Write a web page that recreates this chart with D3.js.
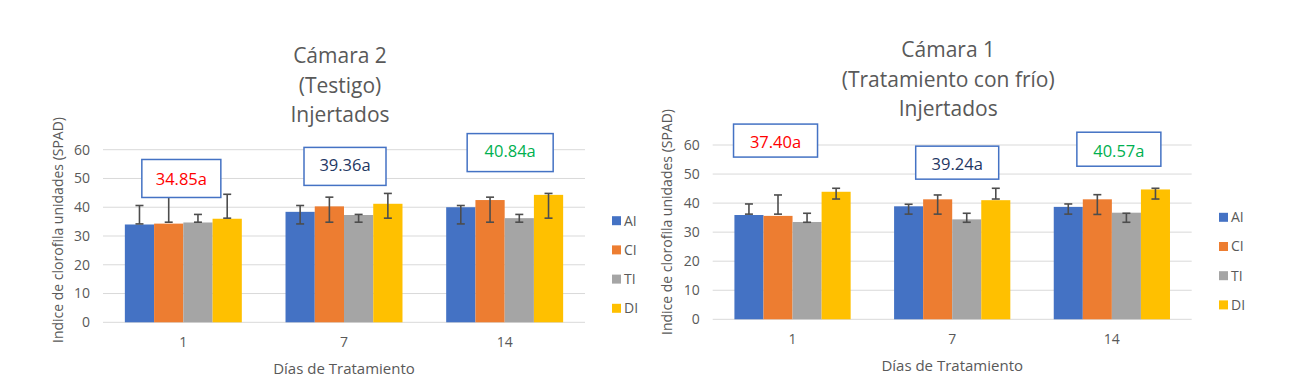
<!DOCTYPE html>
<html>
<head>
<meta charset="utf-8">
<script src="https://cdn.jsdelivr.net/npm/d3@7"></script>
<style>
  body { margin: 0; background: #fff; }
  text { font-family: "Open Sans", "Noto Sans", sans-serif; fill: #595959; }
</style>
</head>
<body>
<svg width="1305" height="391"></svg>
<script>
var days = ["1", "7", "14"];
var series = ["AI", "CI", "TI", "DI"];
var colors = ["#4472C4", "#ED7D31", "#A5A5A5", "#FFC000"];
var yTicks = [0, 10, 20, 30, 40, 50, 60];

// Cámara 2 (Testigo) - rows are series, columns are days
var cam2Means = [[34.0, 38.4, 40.0], [34.3, 40.3, 42.5], [34.7, 37.3, 36.2], [36.0, 41.2, 44.3]];
var cam2ErrLow = [[34.2, 34.2, 34.2], [34.8, 34.8, 34.8], [34.8, 34.8, 34.8], [36.2, 36.2, 36.2]];
var cam2ErrHigh = [[40.6, 40.6, 40.6], [43.5, 43.5, 43.5], [37.5, 37.5, 37.5], [44.5, 44.8, 44.8]];
var cam2Labels = ["34.85a", "39.36a", "40.84a"];

// Cámara 1 (Tratamiento con frío)
var cam1Means = [[35.9, 38.9, 38.7], [35.6, 41.3, 41.3], [33.5, 34.4, 36.7], [43.9, 41.0, 44.7]];
var cam1ErrLow = [[36.2, 36.2, 36.2], [36.2, 36.2, 36.1], [33.4, 33.4, 33.4], [41.4, 41.4, 41.4]];
var cam1ErrHigh = [[39.7, 39.6, 39.7], [42.8, 42.8, 42.9], [36.5, 36.5, 36.5], [45.1, 45.1, 45.1]];
var cam1Labels = ["37.40a", "39.24a", "40.57a"];

var labelColors = ["#FF0000", "#1F3864", "#00B050"];

var svg = d3.select("svg");

function drawChart(cfg) {
  var g = svg.append("g");
  var x = d3.scaleBand().domain(days).range([cfg.left, cfg.right]).paddingInner(0.272).paddingOuter(0.136);
  var xs = d3.scaleBand().domain(series).range([0, x.bandwidth()]);
  var y = d3.scaleLinear().domain([0, 60]).range([cfg.bottom, cfg.top]);

  // gridlines
  g.selectAll(".grid").data(yTicks).enter().append("line")
    .attr("x1", cfg.left).attr("x2", cfg.right)
    .attr("y1", function(d) { return y(d); }).attr("y2", function(d) { return y(d); })
    .attr("stroke", "#D9D9D9").attr("stroke-width", 1);

  g.selectAll(".ytick").data(yTicks).enter().append("text")
    .attr("x", cfg.left - 13).attr("y", function(d) { return y(d); })
    .attr("dy", "0.35em").attr("text-anchor", "end")
    .style("font-size", "14px").text(function(d) { return d; });

  g.selectAll(".xtick").data(days).enter().append("text")
    .attr("x", function(d) { return x(d) + x.bandwidth() / 2; })
    .attr("y", cfg.bottom + 20).attr("dy", "0.35em").attr("text-anchor", "middle")
    .style("font-size", "14px").text(function(d) { return d; });

  // bars
  var rows = [];
  series.forEach(function(s, i) {
    days.forEach(function(d, j) {
      rows.push({s: s, i: i, day: d, v: cfg.means[i][j], lo: cfg.errLow[i][j], hi: cfg.errHigh[i][j]});
    });
  });

  g.selectAll(".bar").data(rows).enter().append("rect")
    .attr("x", function(d) { return x(d.day) + xs(d.s); })
    .attr("width", xs.bandwidth())
    .attr("y", function(d) { return y(d.v); })
    .attr("height", function(d) { return y(0) - y(d.v); })
    .attr("fill", function(d) { return colors[d.i]; });

  var eb = g.selectAll(".err").data(rows).enter().append("g")
    .attr("stroke", "#4D4D4D").attr("stroke-width", 1.6);
  eb.append("line")
    .attr("x1", function(d) { return x(d.day) + xs(d.s) + xs.bandwidth() / 2; })
    .attr("x2", function(d) { return x(d.day) + xs(d.s) + xs.bandwidth() / 2; })
    .attr("y1", function(d) { return y(d.lo); }).attr("y2", function(d) { return y(d.hi); });
  ["lo", "hi"].forEach(function(k) {
    eb.append("line")
      .attr("x1", function(d) { return x(d.day) + xs(d.s) + xs.bandwidth() / 2 - 4; })
      .attr("x2", function(d) { return x(d.day) + xs(d.s) + xs.bandwidth() / 2 + 4; })
      .attr("y1", function(d) { return y(d[k]); }).attr("y2", function(d) { return y(d[k]); });
  });

  // mean boxes
  days.forEach(function(d, j) {
    var b = cfg.boxes[j];
    var cx = x(d) + x.bandwidth() / 2 + b.dx;
    var top = y(b.top);
    g.append("rect")
      .attr("x", cx - b.w / 2).attr("y", top).attr("width", b.w).attr("height", b.h)
      .attr("fill", "#fff").attr("stroke", "#4472C4").attr("stroke-width", 1.5);
    g.append("text")
      .attr("x", cx).attr("y", top + b.h / 2 + b.ty).attr("dy", "0.35em")
      .attr("text-anchor", "middle").style("font-size", "16.5px")
      .style("fill", labelColors[j]).text(cfg.labels[j]);
  });

  // legend
  var lg = g.selectAll(".leg").data(series).enter().append("g")
    .attr("transform", function(d, i) { return "translate(" + cfg.legX + "," + (cfg.legY + i * 29.2) + ")"; });
  lg.append("rect").attr("x", 0).attr("y", -4.5).attr("width", 9).attr("height", 9)
    .attr("fill", function(d, i) { return colors[i]; });
  lg.append("text").attr("x", 12).attr("dy", "0.35em").style("font-size", "14px")
    .text(function(d) { return d; });

  // titles
  g.selectAll(".title").data(cfg.title).enter().append("text")
    .attr("x", (cfg.left + cfg.right) / 2 - 4)
    .attr("y", function(d, i) { return cfg.titleY + i * 29.5; })
    .attr("dy", "0.35em").attr("text-anchor", "middle")
    .style("font-size", "21px").text(function(d) { return d; });

  g.append("text")
    .attr("x", (cfg.left + cfg.right) / 2).attr("y", cfg.bottom + 46)
    .attr("dy", "0.35em").attr("text-anchor", "middle")
    .style("font-size", "15px").text("Días de Tratamiento");

  g.append("text")
    .attr("transform", "translate(" + cfg.yTitleX + "," + cfg.yTitleY + ") rotate(-90)")
    .attr("dy", "0.35em").attr("text-anchor", "middle")
    .style("font-size", "14px").text("Indice de clorofila unidades (SPAD)");
}

drawChart({
  left: 103, right: 585, top: 149.7, bottom: 322.3,
  means: cam2Means, errLow: cam2ErrLow, errHigh: cam2ErrHigh, labels: cam2Labels,
  boxes: [{dx: -2, top: 56.6, w: 79, h: 38, ty: 1}, {dx: 1, top: 60.8, w: 82, h: 38, ty: -1}, {dx: 5.5, top: 65.6, w: 86, h: 38, ty: -1}],
  legX: 612, legY: 220.7,
  title: ["Cámara 2", "(Testigo)", "Injertados"], titleY: 56,
  yTitleX: 58, yTitleY: 230
});

drawChart({
  left: 712.7, right: 1191.7, top: 145, bottom: 319.3,
  means: cam1Means, errLow: cam1ErrLow, errHigh: cam1ErrHigh, labels: cam1Labels,
  boxes: [{dx: -17, top: 67.2, w: 84, h: 33, ty: 2}, {dx: 5, top: 59.6, w: 83, h: 33, ty: 2}, {dx: 7, top: 64.4, w: 84, h: 34, ty: 2}],
  legX: 1219, legY: 217.3,
  title: ["Cámara 1", "(Tratamiento con frío)", "Injertados"], titleY: 50,
  yTitleX: 667, yTitleY: 222
});
</script>
</body>
</html>
